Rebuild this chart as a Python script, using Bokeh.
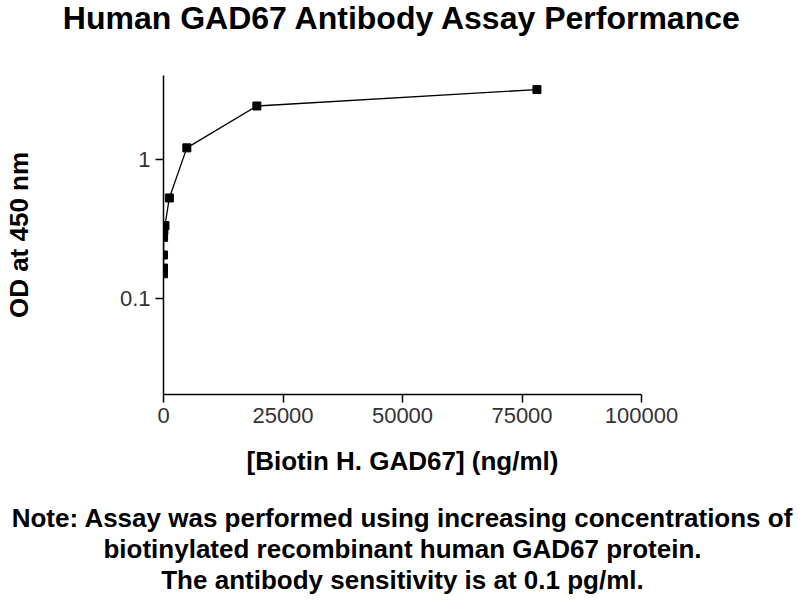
from bokeh.plotting import figure
from bokeh.embed import file_html
from bokeh.resources import INLINE
from bokeh.models import FixedTicker, BasicTickFormatter, Title

# biotin H. GAD67 concentration (ng/ml) and OD at 450 nm
conc = [0.3, 1.2, 4.8, 19, 76, 305, 1221, 4883, 19531, 78125]
od = [0.15, 0.165, 0.205, 0.275, 0.31, 0.335, 0.53, 1.22, 2.45, 3.22]

x_ticks = [0, 25000, 50000, 75000, 100000]
y_ticks = [0.1, 1]
y_labels = {0.1: "0.1", 1: "1"}

title = "Human GAD67 Antibody Assay Performance"
x_title = "[Biotin H. GAD67] (ng/ml)"
y_title = "OD at 450 nm"
note = ["Note: Assay was performed using increasing concentrations of",
        "biotinylated recombinant human GAD67 protein.",
        "The antibody sensitivity is at 0.1 pg/ml."]

FONT = "Liberation Sans"

p = figure(frame_width=478, frame_height=319, y_axis_type="log",
           x_range=(0, 100000), y_range=(0.0201, 4.07),
           output_backend="svg", toolbar_location=None,
           min_border_left=163, min_border_right=159,
           min_border_top=75, min_border_bottom=206)

# blank gap between the frame and the title, then the title itself
p.add_layout(Title(text=" ", text_font_size="2px", standoff=35), "above")
p.add_layout(Title(text=title, align="center", vertical_align="top", standoff=-2,
                   text_font=FONT, text_font_size="32px", text_font_style="bold",
                   text_color="black"), "above")

p.outline_line_color = None
p.xgrid.grid_line_color = None
p.ygrid.grid_line_color = None

p.line(conc, od, line_color="black", line_width=1.3)
p.scatter(conc, od, marker="square", size=8, fill_color="black", line_color="black")

for ax in (p.xaxis, p.yaxis):
    ax.axis_line_color = "black"
    ax.axis_line_width = 1.5
    ax.major_tick_line_color = "black"
    ax.major_tick_line_width = 1.5
    ax.major_tick_out = 8
    ax.major_tick_in = 0
    ax.minor_tick_line_color = None
    ax.major_label_text_font = FONT
    ax.major_label_text_font_size = "22px"
    ax.major_label_text_color = "#333333"
    ax.axis_label_text_font = FONT
    ax.axis_label_text_font_size = "26px"
    ax.axis_label_text_font_style = "bold"
    ax.axis_label_text_color = "black"

p.xaxis.ticker = FixedTicker(ticks=x_ticks)
p.xaxis.formatter = BasicTickFormatter(use_scientific=False)
p.xaxis.axis_label = x_title
p.xaxis.axis_label_standoff = 20

p.yaxis.ticker = FixedTicker(ticks=y_ticks)
p.yaxis.major_label_overrides = y_labels
p.yaxis.axis_label = y_title
p.yaxis.axis_label_standoff = 83

# blank gap between the axis title and the note
p.add_layout(Title(text=" ", text_font_size="2px", standoff=18), "below")
for i, line in enumerate(note):
    p.add_layout(Title(text=line, align="center", text_font=FONT,
                       text_font_size="26px", text_font_style="bold",
                       text_color="black", standoff=(0 if i == 0 else -1)), "below")

open("out.html", "w").write(file_html(p, INLINE))
